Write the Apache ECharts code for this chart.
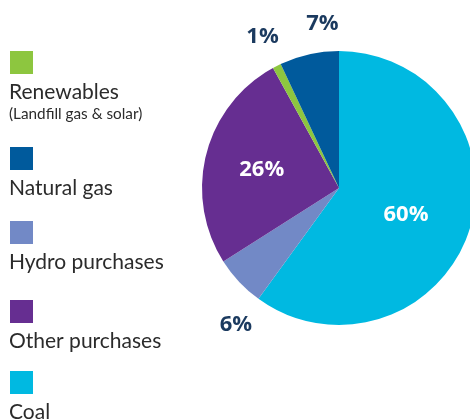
<!DOCTYPE html>
<html><head><meta charset="utf-8">
<script src="https://cdn.jsdelivr.net/npm/echarts@6/dist/echarts.min.js"></script>
<style>html,body{margin:0;padding:0;background:#fff}#c{width:470px;height:420px}</style>
</head><body><div id="c"></div>
<script>
// Data (pie order, clockwise from 12 o'clock)
var categories = ['Coal', 'Hydro purchases', 'Other purchases', 'Renewables', 'Natural gas'];
var values = [60, 6, 26, 1, 7];
var colors = ['#00b9e1', '#7289c6', '#662e91', '#8dc63f', '#005a9c'];
// Legend order (top to bottom)
var legendNames = ['Renewables', 'Natural gas', 'Hydro purchases', 'Other purchases', 'Coal'];
var legendSub = {'Renewables': '(Landfill gas & solar)'};

// styling (not data)
var labelStyle = {
  'Coal': {inside: true, offset: [-1, 5]},
  'Hydro purchases': {inside: false, offset: [-51, 88]},
  'Other purchases': {inside: true, offset: [-8, 0]},
  'Renewables': {inside: false, offset: [-44, -88]},
  'Natural gas': {inside: false, offset: [-1, -94]}
};
var legendY = {'Renewables': 51, 'Natural gas': 147, 'Hydro purchases': 221, 'Other purchases': 300, 'Coal': 371};
var FONT = '"Open Sans", "Noto Sans", sans-serif';
var LFONT = 'Lato, "Open Sans", sans-serif';

var data = categories.map(function (c, i) {
  var ls = labelStyle[c];
  return {
    name: c, value: values[i],
    itemStyle: {color: colors[i]},
    label: {offset: ls.offset, color: ls.inside ? '#ffffff' : '#1b3a5f'}
  };
});

var graphics = [];
legendNames.forEach(function (n) {
  var y = legendY[n];
  var col = colors[categories.indexOf(n)];
  graphics.push({type: 'rect', left: 10, top: y, shape: {width: 23, height: 23}, style: {fill: col}});
  graphics.push({type: 'text', x: 9, y: y + 41, style: {text: n, font: '21px ' + LFONT, fill: '#2b2b2b', verticalAlign: 'middle'}});
  if (legendSub[n]) {
    graphics.push({type: 'text', x: 9, y: y + 63, style: {text: legendSub[n], font: '15.3px ' + LFONT, fill: '#2b2b2b', verticalAlign: 'middle'}});
  }
});

var chart = echarts.init(document.getElementById('c'));
chart.setOption({
  animation: false,
  backgroundColor: '#ffffff',
  graphic: graphics,
  series: [{
    type: 'pie',
    center: [339, 188],
    radius: 137,
    startAngle: 90,
    clockwise: true,
    avoidLabelOverlap: false,
    label: {
      show: true, position: 'inside',
      formatter: '{c}%',
      fontFamily: FONT, fontWeight: 'bold', fontSize: 22
    },
    labelLine: {show: false},
    itemStyle: {borderWidth: 0},
    emphasis: {disabled: true},
    data: data
  }]
});
</script></body></html>
